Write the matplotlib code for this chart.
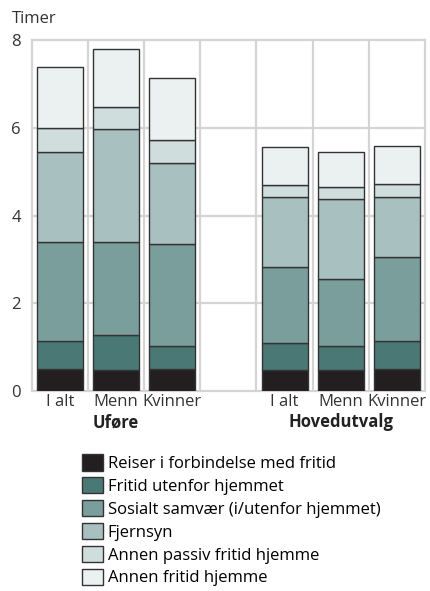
import matplotlib
matplotlib.use('Agg')
import matplotlib.pyplot as plt
import numpy as np

plt.rcParams['font.family'] = ['Open Sans', 'DejaVu Sans']

groups = ['Uføre', 'Hovedutvalg']
categories = ['I alt', 'Menn', 'Kvinner', '', 'I alt', 'Menn', 'Kvinner']
series = ['Reiser i forbindelse med fritid',
          'Fritid utenfor hjemmet',
          'Sosialt samvær (i/utenfor hjemmet)',
          'Fjernsyn',
          'Annen passiv fritid hjemme',
          'Annen fritid hjemme']

# hours per segment, one value per category (empty slot = 0)
reiser   = [0.50, 0.49, 0.50, 0, 0.49, 0.48, 0.50]
utenfor  = [0.64, 0.79, 0.54, 0, 0.61, 0.56, 0.64]
sosialt  = [2.25, 2.12, 2.32, 0, 1.72, 1.51, 1.91]
fjernsyn = [2.06, 2.57, 1.83, 0, 1.60, 1.84, 1.37]
passiv   = [0.55, 0.51, 0.54, 0, 0.28, 0.26, 0.30]
annen    = [1.38, 1.32, 1.41, 0, 0.86, 0.81, 0.88]

colors = ['#231f20', '#4a7874', '#7a9e9b', '#a8c0bf', '#cfdddd', '#ebf1f1']
fs = 12

fig = plt.figure(figsize=(4.30, 5.91), dpi=100)
ax = fig.add_axes([0.0744, 0.338, 0.9136, 0.594])

x = np.arange(len(categories))
bottom = np.zeros(len(categories))
bars = []
for vals, col, name in zip([reiser, utenfor, sosialt, fjernsyn, passiv, annen], colors, series):
    vals = np.array(vals)
    mask = vals > 0
    b = ax.bar(x[mask], vals[mask], 0.82, bottom=bottom[mask], color=col,
               edgecolor='#333333', linewidth=1.0, label=name, zorder=3)
    bars.append(b)
    bottom += vals

ax.set_xlim(-0.5, 6.5)
ax.set_ylim(0, 8)
ax.set_yticks([0, 2, 4, 6, 8])
ax.set_xticks(x[[0, 1, 2, 4, 5, 6]])
ax.set_xticklabels([c for c in categories if c])

for s in ax.spines.values():
    s.set_visible(False)
ax.tick_params(axis='both', which='both', length=0, labelsize=fs, colors='#333333')
ax.tick_params(axis='x', pad=2)
ax.tick_params(axis='y', pad=8)

# grid: horizontal at y ticks, vertical at slot boundaries
grid_kw = dict(color='#d4d4d4', linewidth=1.6, zorder=0, clip_on=False)
for yv in [0, 2, 4, 6, 8]:
    ax.axhline(yv, **grid_kw)
for xv in np.arange(-0.5, 7, 1):
    ax.axvline(xv, **grid_kw)

ax.text(1, -0.062, groups[0], transform=ax.get_xaxis_transform(), ha='center', va='top',
        fontsize=fs, fontweight='bold', color='#222222')
ax.text(5, -0.062, groups[1], transform=ax.get_xaxis_transform(), ha='center', va='top',
        fontsize=fs, fontweight='bold', color='#222222')

fig.text(12 / 430, 1 - 19 / 591, 'Timer', fontsize=fs, color='#333333', va='center', ha='left')

fig.legend(handles=bars, labels=series, loc='upper left', bbox_to_anchor=(82 / 430, 1 - 454 / 591),
           frameon=False, fontsize=fs, handlelength=1.25, handleheight=1.15,
           handletextpad=0.3, labelspacing=0.30, borderpad=0, borderaxespad=0)

fig.savefig('out.png', dpi=100)
